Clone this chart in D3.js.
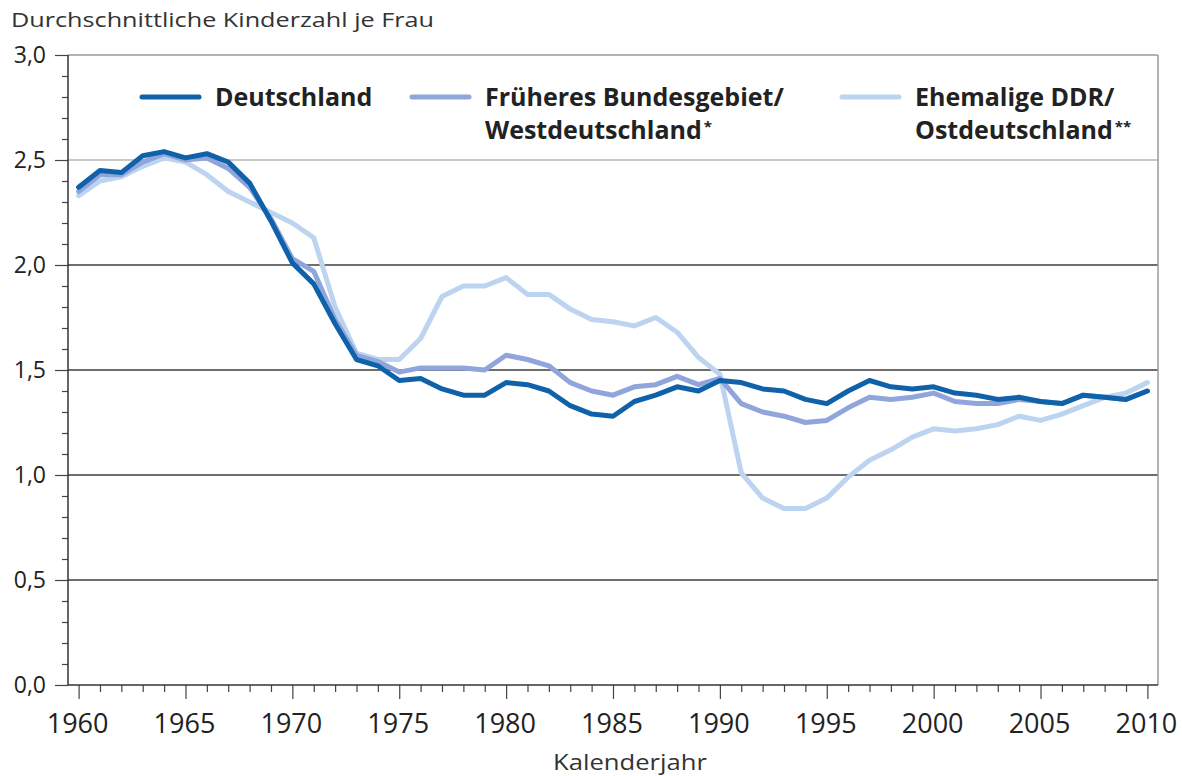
<!DOCTYPE html>
<html>
<head>
<meta charset="utf-8">
<script src="https://cdn.jsdelivr.net/npm/d3@7.9.0/dist/d3.min.js"></script>
<style>
  body { margin: 0; background: #fff; }
  svg { display: block; font-family: "Open Sans", "Noto Sans", sans-serif; }
</style>
</head>
<body>
<svg id="chart" width="1182" height="776"></svg>
<script>
const years = [1960, 1961, 1962, 1963, 1964, 1965, 1966, 1967, 1968, 1969,
  1970, 1971, 1972, 1973, 1974, 1975, 1976, 1977, 1978, 1979,
  1980, 1981, 1982, 1983, 1984, 1985, 1986, 1987, 1988, 1989,
  1990, 1991, 1992, 1993, 1994, 1995, 1996, 1997, 1998, 1999,
  2000, 2001, 2002, 2003, 2004, 2005, 2006, 2007, 2008, 2009, 2010];

const deutschland = [2.37, 2.45, 2.44, 2.52, 2.54, 2.51, 2.53, 2.49, 2.39, 2.21,
  2.01, 1.91, 1.72, 1.55, 1.52, 1.45, 1.46, 1.41, 1.38, 1.38,
  1.44, 1.43, 1.40, 1.33, 1.29, 1.28, 1.35, 1.38, 1.42, 1.40,
  1.45, 1.44, 1.41, 1.40, 1.36, 1.34, 1.40, 1.45, 1.42, 1.41,
  1.42, 1.39, 1.38, 1.36, 1.37, 1.35, 1.34, 1.38, 1.37, 1.36, 1.40];

const westdeutschland = [2.35, 2.43, 2.43, 2.49, 2.53, 2.50, 2.51, 2.46, 2.37, 2.22,
  2.03, 1.97, 1.74, 1.57, 1.54, 1.49, 1.51, 1.51, 1.51, 1.50,
  1.57, 1.55, 1.52, 1.44, 1.40, 1.38, 1.42, 1.43, 1.47, 1.43,
  1.46, 1.34, 1.30, 1.28, 1.25, 1.26, 1.32, 1.37, 1.36, 1.37,
  1.39, 1.35, 1.34, 1.34, 1.36, 1.35, 1.34, 1.38, 1.37, 1.36, 1.40];

const ostdeutschland = [2.33, 2.40, 2.42, 2.47, 2.51, 2.49, 2.43, 2.35, 2.30, 2.25,
  2.20, 2.13, 1.80, 1.58, 1.55, 1.55, 1.65, 1.85, 1.90, 1.90,
  1.94, 1.86, 1.86, 1.79, 1.74, 1.73, 1.71, 1.75, 1.68, 1.56,
  1.48, 1.01, 0.89, 0.84, 0.84, 0.89, 0.99, 1.07, 1.12, 1.18,
  1.22, 1.21, 1.22, 1.24, 1.28, 1.26, 1.29, 1.33, 1.37, 1.39, 1.44];

const yTicks = [0, 0.5, 1.0, 1.5, 2.0, 2.5, 3.0];
const xTickLabels = [1960, 1965, 1970, 1975, 1980, 1985, 1990, 1995, 2000, 2005, 2010];

// legend lines: [text, footnote mark]
const series = [
  { name: [['Ehemalige DDR/', ''], ['Ostdeutschland', '**']], values: ostdeutschland, color: '#bcd4f0', lx: 842 },
  { name: [['Früheres Bundesgebiet/', ''], ['Westdeutschland', '*']], values: westdeutschland, color: '#8fa5db', lx: 412 },
  { name: [['Deutschland', '']], values: deutschland, color: '#0f62aa', lx: 142 }
];

const svg = d3.select('#chart');
const box = { left: 68, right: 1158, top: 55, bottom: 685 };

const x = d3.scaleLinear().domain([1960, 2010]).range([78.6, 1147.4]);
const y = d3.scaleLinear().domain([0, 3]).range([box.bottom, box.top]);

// title (reference type is set wide)
svg.append('text')
  .attr('x', 11).attr('y', 27)
  .attr('font-size', 20).attr('fill', '#333')
  .attr('textLength', 423).attr('lengthAdjust', 'spacingAndGlyphs')
  .text('Durchschnittliche Kinderzahl je Frau');

// grid lines
svg.append('g').selectAll('line')
  .data(yTicks.filter(d => d > 0 && d < 3))
  .join('line')
  .attr('x1', box.left).attr('x2', box.right)
  .attr('y1', d => y(d)).attr('y2', d => y(d))
  .attr('stroke', d => d === 2.5 ? '#c8c8c8' : '#6e6e6e')
  .attr('stroke-width', 2);

// frame top + right
svg.append('line')
  .attr('x1', box.left).attr('x2', box.right)
  .attr('y1', y(3)).attr('y2', y(3))
  .attr('stroke', '#9a9a9a').attr('stroke-width', 1.5);
svg.append('line')
  .attr('x1', box.right).attr('x2', box.right)
  .attr('y1', y(3)).attr('y2', box.bottom)
  .attr('stroke', '#9a9a9a').attr('stroke-width', 1.5);

// y axis
const yAxis = svg.append('g').attr('transform', `translate(${box.left},0)`);
yAxis.call(d3.axisLeft(y).tickValues(d3.range(0, 3.01, 0.1)).tickSize(6).tickFormat(''));
yAxis.call(g => g.select('.domain').remove());
yAxis.selectAll('.tick line').attr('stroke', '#444').attr('stroke-width', 1.2);
yAxis.selectAll('.tick').filter(d => yTicks.some(t => Math.abs(t - d) < 1e-6))
  .select('line').attr('x2', -13);
svg.append('line')
  .attr('x1', box.left).attr('x2', box.left)
  .attr('y1', box.top).attr('y2', box.bottom)
  .attr('stroke', '#333').attr('stroke-width', 1.5);

svg.append('g').selectAll('text')
  .data(yTicks)
  .join('text')
  .attr('x', 46).attr('y', d => y(d) + 8)
  .attr('text-anchor', 'end')
  .attr('font-size', 23).attr('fill', '#222')
  .text(d => d.toFixed(1).replace('.', ','));

// x axis
const xAxis = svg.append('g').attr('transform', `translate(0,${box.bottom})`);
xAxis.call(d3.axisBottom(x).tickValues(years).tickSize(7).tickFormat(''));
xAxis.call(g => g.select('.domain').remove());
xAxis.selectAll('.tick line').attr('stroke', '#444').attr('stroke-width', 1.2);
xAxis.selectAll('.tick').filter(d => xTickLabels.includes(d))
  .select('line').attr('y2', 14);
svg.append('line')
  .attr('x1', box.left).attr('x2', box.right)
  .attr('y1', box.bottom).attr('y2', box.bottom)
  .attr('stroke', '#333').attr('stroke-width', 1.5);

svg.append('g').selectAll('text')
  .data(xTickLabels)
  .join('text')
  .attr('x', d => x(d) - 1).attr('y', 733)
  .attr('text-anchor', 'middle')
  .attr('font-size', 27).attr('fill', '#222')
  .text(d => d);

svg.append('text')
  .attr('x', 553).attr('y', 770)
  .attr('font-size', 21).attr('fill', '#333')
  .attr('textLength', 154).attr('lengthAdjust', 'spacingAndGlyphs')
  .text('Kalenderjahr');

// lines
const line = d3.line()
  .x((d, i) => x(years[i]))
  .y(d => y(d));

svg.append('g').selectAll('path')
  .data(series)
  .join('path')
  .attr('d', d => line(d.values))
  .attr('fill', 'none')
  .attr('stroke', d => d.color)
  .attr('stroke-width', 5)
  .attr('stroke-linejoin', 'round')
  .attr('stroke-linecap', 'round');

// legend
const legend = svg.append('g');
series.forEach(s => {
  legend.append('line')
    .attr('x1', s.lx).attr('x2', s.lx + 57)
    .attr('y1', 97).attr('y2', 97)
    .attr('stroke', s.color).attr('stroke-width', 5)
    .attr('stroke-linecap', 'round');
  s.name.forEach(([label, mark], i) => {
    const t = legend.append('text')
      .attr('x', s.lx + 73).attr('y', 106 + i * 33)
      .attr('font-size', 25).attr('font-weight', 700).attr('fill', '#222');
    t.append('tspan').text(label);
    if (mark) {
      t.append('tspan')
        .attr('font-size', 15).attr('dx', 2).attr('dy', -7)
        .text(mark);
    }
  });
});
</script>
</body>
</html>
